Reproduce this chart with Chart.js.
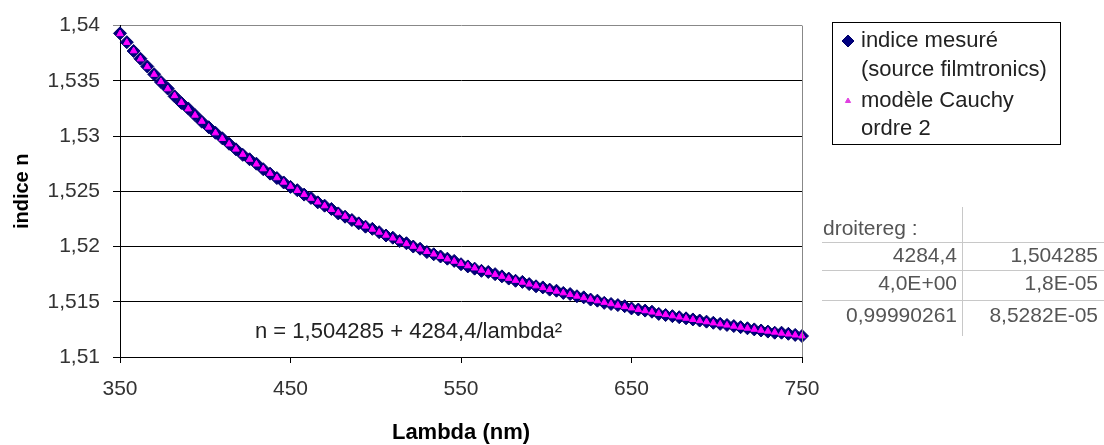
<!DOCTYPE html>
<html>
<head>
<meta charset="utf-8">
<script src="https://cdn.jsdelivr.net/npm/chart.js@4.4.0/dist/chart.umd.min.js"></script>
<style>
  html, body { margin: 0; padding: 0; background: #fff; }
</style>
</head>
<body>
<canvas id="indiceChart" width="1104" height="445"></canvas>
<script>
// longueurs d'onde (nm)
const lambdas = [
  350, 354, 358, 362, 366, 370, 374, 378, 382, 386,
  390, 394, 398, 402, 406, 410, 414, 418, 422, 426,
  430, 434, 438, 442, 446, 450, 454, 458, 462, 466,
  470, 474, 478, 482, 486, 490, 494, 498, 502, 506,
  510, 514, 518, 522, 526, 530, 534, 538, 542, 546,
  550, 554, 558, 562, 566, 570, 574, 578, 582, 586,
  590, 594, 598, 602, 606, 610, 614, 618, 622, 626,
  630, 634, 638, 642, 646, 650, 654, 658, 662, 666,
  670, 674, 678, 682, 686, 690, 694, 698, 702, 706,
  710, 714, 718, 722, 726, 730, 734, 738, 742, 746, 750
];

// indice mesuré (source filmtronics)
const nMesure = [
  1.5393, 1.5385, 1.5377, 1.5370, 1.5363, 1.5356, 1.5349, 1.5343, 1.5336, 1.5330,
  1.5325, 1.5319, 1.5313, 1.5308, 1.5303, 1.5298, 1.5293, 1.5288, 1.5283, 1.5279,
  1.5275, 1.5270, 1.5266, 1.5262, 1.5258, 1.5254, 1.5251, 1.5247, 1.5244, 1.5240,
  1.5237, 1.5234, 1.5230, 1.5227, 1.5224, 1.5221, 1.5218, 1.5216, 1.5213, 1.5210,
  1.5208, 1.5205, 1.5203, 1.5200, 1.5198, 1.5195, 1.5193, 1.5191, 1.5189, 1.5187,
  1.5184, 1.5182, 1.5180, 1.5178, 1.5177, 1.5175, 1.5173, 1.5171, 1.5169, 1.5168,
  1.5166, 1.5164, 1.5163, 1.5161, 1.5160, 1.5158, 1.5157, 1.5155, 1.5154, 1.5152,
  1.5151, 1.5149, 1.5148, 1.5147, 1.5146, 1.5144, 1.5143, 1.5142, 1.5141, 1.5139,
  1.5138, 1.5137, 1.5136, 1.5135, 1.5134, 1.5133, 1.5132, 1.5131, 1.5130, 1.5129,
  1.5128, 1.5127, 1.5126, 1.5125, 1.5124, 1.5123, 1.5122, 1.5122, 1.5121, 1.5120, 1.5119
];

// modèle Cauchy ordre 2
const nCauchy = [
  1.53926, 1.53847, 1.53771, 1.53698, 1.53627, 1.53558, 1.53492, 1.53427, 1.53365, 1.53304,
  1.53245, 1.53188, 1.53133, 1.53080, 1.53028, 1.52977, 1.52928, 1.52881, 1.52834, 1.52789,
  1.52746, 1.52703, 1.52662, 1.52622, 1.52582, 1.52544, 1.52507, 1.52471, 1.52436, 1.52402,
  1.52368, 1.52335, 1.52304, 1.52273, 1.52242, 1.52213, 1.52184, 1.52156, 1.52129, 1.52102,
  1.52076, 1.52050, 1.52025, 1.52001, 1.51977, 1.51954, 1.51931, 1.51909, 1.51887, 1.51866,
  1.51845, 1.51825, 1.51805, 1.51785, 1.51766, 1.51747, 1.51729, 1.51711, 1.51693, 1.51676,
  1.51659, 1.51643, 1.51627, 1.51611, 1.51595, 1.51580, 1.51565, 1.51550, 1.51536, 1.51522,
  1.51508, 1.51494, 1.51481, 1.51468, 1.51455, 1.51443, 1.51430, 1.51418, 1.51406, 1.51394,
  1.51383, 1.51372, 1.51361, 1.51350, 1.51339, 1.51328, 1.51318, 1.51308, 1.51298, 1.51288,
  1.51278, 1.51269, 1.51260, 1.51250, 1.51241, 1.51233, 1.51224, 1.51215, 1.51207, 1.51198, 1.51190
];

const legendMesure = ["indice mesuré", "(source filmtronics)"];
const legendCauchy = ["modèle Cauchy", "ordre 2"];
const equation = "n = 1,504285 + 4284,4/lambda²";
const droiteregTitle = "droitereg :";
const droiteregRows = [
  ["4284,4", "1,504285"],
  ["4,0E+00", "1,8E-05"],
  ["0,99990261", "8,5282E-05"]
];

const FONT = '"Liberation Sans", Arial, sans-serif';
Chart.defaults.font.family = FONT;

// legende, equation et tableau droitereg
const extras = {
  id: "extras",
  afterDraw(chart) {
    const ctx = chart.ctx;
    const area = chart.chartArea;
    ctx.save();

    // bord droit de la zone de tracé
    ctx.strokeStyle = "#888";
    ctx.lineWidth = 1;
    ctx.beginPath();
    ctx.moveTo(Math.round(area.right) + 0.5, area.top);
    ctx.lineTo(Math.round(area.right) + 0.5, area.bottom);
    ctx.stroke();

    // equation
    ctx.fillStyle = "#222";
    ctx.font = "22px " + FONT;
    ctx.textBaseline = "middle";
    ctx.textAlign = "left";
    ctx.fillText(equation, 255, 332);

    // légende
    ctx.strokeStyle = "#000";
    ctx.strokeRect(832.5, 22.5, 228, 122);
    ctx.fillStyle = "#000080";
    ctx.strokeStyle = "#000066";
    Chart.helpers.drawPoint(ctx, { pointStyle: "rectRot", radius: 6, rotation: 0, borderWidth: 1 }, 848, 41);
    ctx.fillStyle = "#e040e0";
    ctx.strokeStyle = "#e040e0";
    Chart.helpers.drawPoint(ctx, { pointStyle: "triangle", radius: 3, rotation: 0, borderWidth: 1 }, 848, 101);
    ctx.fillStyle = "#222";
    ctx.fillText(legendMesure[0], 861, 41);
    ctx.fillText(legendMesure[1], 861, 70);
    ctx.fillText(legendCauchy[0], 861, 101);
    ctx.fillText(legendCauchy[1], 861, 129);

    // tableau droitereg
    ctx.strokeStyle = "#c8c8c8";
    ctx.beginPath();
    [242, 270, 300].forEach(y => {
      ctx.moveTo(822, y + 0.5);
      ctx.lineTo(1104, y + 0.5);
    });
    ctx.moveTo(962.5, 207);
    ctx.lineTo(962.5, 336);
    ctx.stroke();
    ctx.fillStyle = "#555";
    ctx.font = "21px " + FONT;
    ctx.fillText(droiteregTitle, 823, 229);
    ctx.textAlign = "right";
    const rowY = [256, 284, 316];
    droiteregRows.forEach((row, i) => {
      ctx.fillText(row[0], 957, rowY[i]);
      ctx.fillText(row[1], 1098, rowY[i]);
    });
    ctx.restore();
  }
};

const ctx = document.getElementById("indiceChart");
const myChart = new Chart(ctx, {
  type: "scatter",
  data: {
    datasets: [
      {
        label: legendMesure.join(" "),
        data: lambdas.map((x, i) => ({ x: x, y: nMesure[i] })),
        pointStyle: "rectRot",
        pointRadius: 6.5,
        backgroundColor: "#000080",
        borderColor: "#000066",
        borderWidth: 1,
        order: 1,
        clip: false
      },
      {
        label: legendCauchy.join(" "),
        data: lambdas.map((x, i) => ({ x: x, y: nCauchy[i] })),
        pointStyle: "triangle",
        pointRadius: 3.8,
        backgroundColor: "#ff00ff",
        borderColor: "#ff00ff",
        borderWidth: 1,
        order: 0,
        clip: false
      }
    ]
  },
  options: {
    responsive: false,
    animation: false,
    devicePixelRatio: 1,
    layout: { padding: { top: 20, right: 302, left: 0, bottom: 0 } },
    plugins: {
      legend: { display: false },
      tooltip: { enabled: false }
    },
    scales: {
      x: {
        type: "linear",
        min: 350,
        max: 750,
        afterFit: (scale) => { scale.height = 88; },
        ticks: {
          stepSize: 100,
          color: "#333",
          padding: 14,
          font: { size: 21 },
          maxRotation: 0
        },
        grid: { drawOnChartArea: false, drawTicks: true, tickLength: 6, color: "#000" },
        border: { color: "#000" },
        title: {
          display: true,
          text: "Lambda (nm)",
          color: "#000",
          font: { size: 22, weight: "bold", lineHeight: 1 },
          padding: { top: 0, bottom: 1 }
        }
      },
      y: {
        min: 1.51,
        max: 1.54,
        afterFit: (scale) => { scale.width = 120; },
        ticks: {
          stepSize: 0.005,
          color: "#333",
          padding: 13,
          font: { size: 21 },
          callback: (v) => String(+Number(v).toFixed(3)).replace(".", ",")
        },
        grid: {
          tickLength: 7,
          color: (c) => (c.tick && c.tick.value > 1.5399 ? "#888" : "#000")
        },
        border: { color: "#000" },
        title: {
          display: true,
          text: "indice n",
          color: "#000",
          font: { size: 20, weight: "bold", lineHeight: 1 },
          padding: { top: 12, bottom: 0 }
        }
      }
    }
  },
  plugins: [extras]
});
</script>
</body>
</html>
